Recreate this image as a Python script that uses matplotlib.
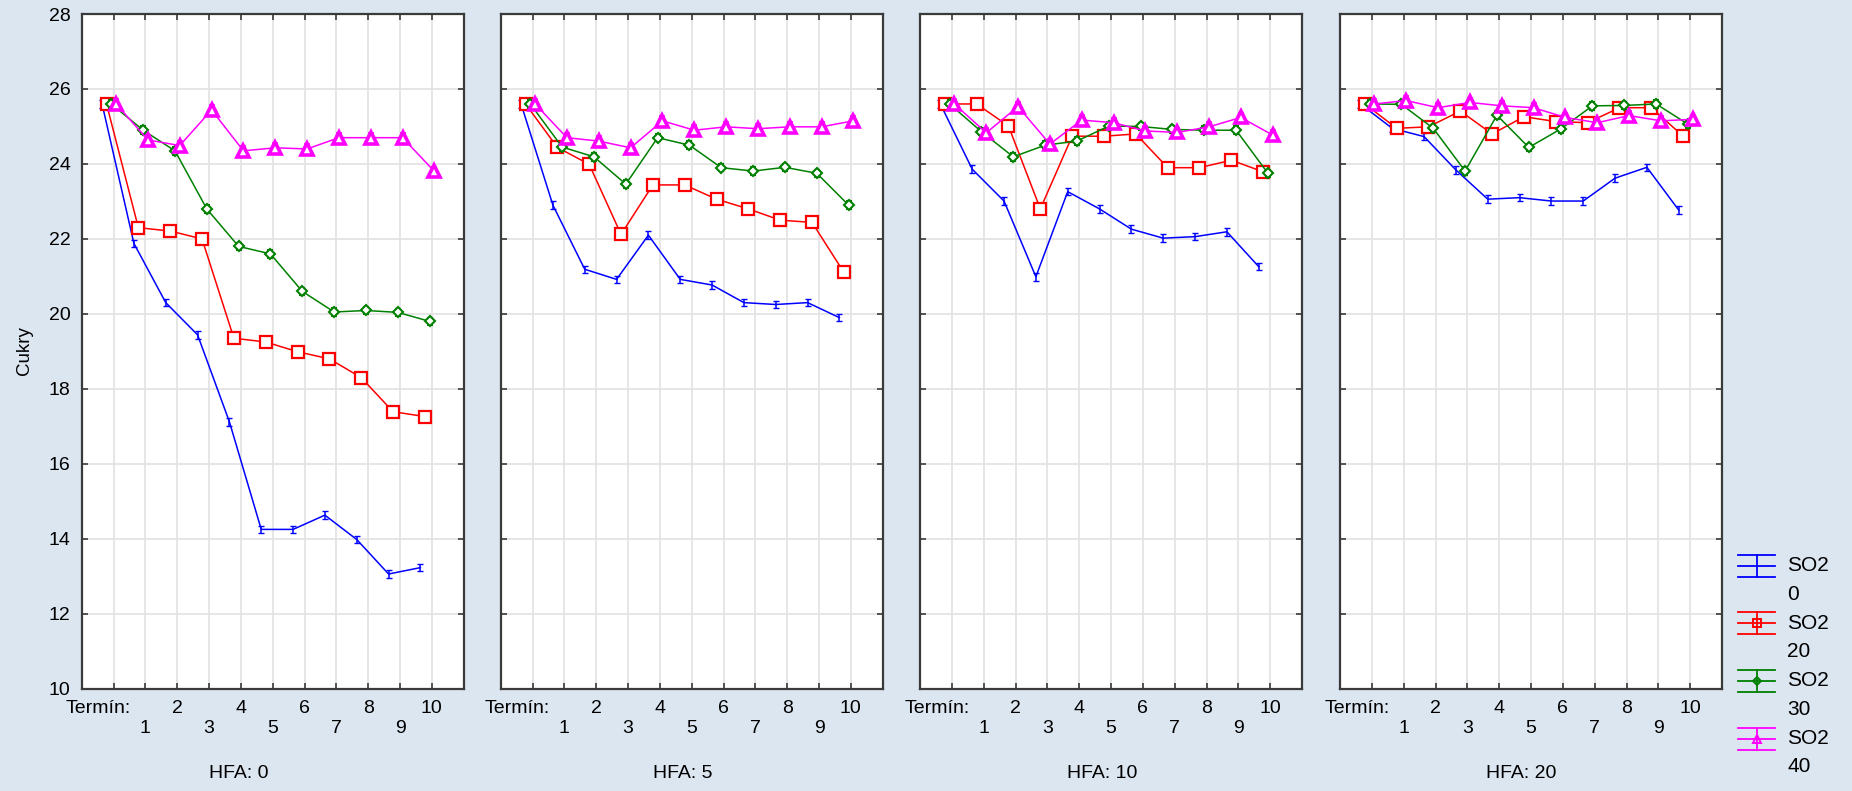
import numpy as np
import matplotlib
matplotlib.use("Agg")
import matplotlib.pyplot as plt

plt.rcParams['font.family'] = ['Liberation Sans', 'DejaVu Sans']

# data
termin = list(range(11))
hfa_levels = [0, 5, 10, 20]
so2_levels = [0, 20, 30, 40]

# one row per HFA level (0, 5, 10, 20)
so2_0 = [
    [25.6, 21.88, 20.3, 19.44, 17.12, 14.25, 14.25, 14.63, 13.98, 13.06, 13.23],
    [25.6, 22.9, 21.19, 20.92, 22.1, 20.92, 20.77, 20.3, 20.25, 20.3, 19.9],
    [25.6, 23.86, 23.01, 20.99, 23.26, 22.8, 22.26, 22.02, 22.06, 22.19, 21.26],
    [25.6, 24.95, 24.73, 23.84, 23.06, 23.1, 23.01, 23.01, 23.62, 23.91, 22.77],
]
so2_20 = [
    [25.6, 22.3, 22.21, 22.0, 19.35, 19.25, 18.99, 18.8, 18.3, 17.39, 17.26],
    [25.6, 24.44, 23.99, 22.12, 23.44, 23.44, 23.06, 22.8, 22.5, 22.44, 21.11],
    [25.6, 25.6, 25.01, 22.8, 24.74, 24.74, 24.8, 23.9, 23.9, 24.1, 23.79],
    [25.6, 24.95, 24.99, 25.41, 24.8, 25.26, 25.13, 25.1, 25.5, 25.5, 24.74],
]
so2_30 = [
    [25.6, 24.9, 24.35, 22.8, 21.8, 21.6, 20.6, 20.05, 20.09, 20.04, 19.8],
    [25.6, 24.45, 24.19, 23.46, 24.7, 24.5, 23.9, 23.81, 23.91, 23.75, 22.9],
    [25.6, 24.86, 24.19, 24.5, 24.61, 25.01, 25.0, 24.92, 24.9, 24.9, 23.75],
    [25.6, 25.59, 24.95, 23.81, 25.3, 24.44, 24.93, 25.55, 25.56, 25.6, 25.06],
]
so2_40 = [
    [25.6, 24.64, 24.49, 25.44, 24.35, 24.43, 24.4, 24.7, 24.7, 24.7, 23.8],
    [25.6, 24.7, 24.61, 24.43, 25.15, 24.9, 24.99, 24.94, 24.99, 24.99, 25.15],
    [25.6, 24.83, 25.53, 24.53, 25.17, 25.1, 24.88, 24.84, 24.99, 25.24, 24.77],
    [25.6, 25.69, 25.5, 25.64, 25.55, 25.5, 25.24, 25.1, 25.29, 25.15, 25.19],
]
std_err = 0.1

series = [so2_0, so2_20, so2_30, so2_40]
colors = ['#0000ff', '#ff0000', '#008000', '#ff00ff']
markers = [None, 's', 'D', '^']
msizes = [0, 8, 5.5, 8]
mews = [1, 1.6, 1.5, 2.6]
offsets = [-0.36, -0.22, -0.07, 0.08]

BG = '#dce6f1'
SPINE = '#3a3a3a'
W, H = 1852, 791
FS = 14

fig = plt.figure(figsize=(W / 100, H / 100), dpi=100, facecolor=BG)

lefts = [81.7, 500.7, 920, 1340]
pw = 382
top_px, bot_px = 14, 688.7
hfa_label_pos = [0.411, 0.476, 0.476, 0.474]

for p, left in enumerate(lefts):
    ax = fig.add_axes([left / W, 1 - bot_px / H, pw / W, (bot_px - top_px) / H])
    ax.set_facecolor('white')
    for s in range(4):
        x = np.array(termin) + offsets[s]
        y = series[s][p]
        ax.errorbar(x, y, yerr=std_err, color=colors[s], lw=1.1,
                    marker=markers[s], ms=msizes[s], mfc='white',
                    mec=colors[s], mew=mews[s], elinewidth=1.1,
                    capsize=2, capthick=1.1, zorder=3 + s)
    ax.set_xlim(-1, 11)
    ax.set_ylim(10, 28)
    ax.set_yticks(np.arange(10, 29, 2))
    ax.set_xticks(termin)
    ax.set_xticklabels([''] + [str(t) if t % 2 == 0 else '\n' + str(t)
                               for t in termin[1:]], fontsize=FS, linespacing=1.25)
    ax.set_xticks([-0.47], minor=True)
    ax.set_xticklabels(['Termín:'], minor=True, fontsize=FS)
    ax.tick_params(axis='x', which='minor', length=0, pad=8)
    ax.tick_params(axis='both', which='major', direction='in', length=4,
                   width=1.2, color=SPINE, top=True, right=True, pad=8,
                   labelsize=FS)
    if p > 0:
        ax.tick_params(axis='y', labelleft=False)
    ax.grid(True, which='major', color='#e2e2e2', lw=1.2, zorder=0)
    ax.set_axisbelow(True)
    for sp in ax.spines.values():
        sp.set_color(SPINE)
        sp.set_linewidth(1.6)
    ax.text(hfa_label_pos[p], 1 - (773 - top_px) / (bot_px - top_px),
            'HFA: %d' % hfa_levels[p], transform=ax.transAxes,
            ha='center', va='center', fontsize=FS)

fig.text(24 / W, 1 - 351 / H, 'Cukry', rotation=90, ha='center', va='center',
         fontsize=13.5)

# legend drawn in pixel units
lax = fig.add_axes([1725 / W, 1 - 775 / H, 127 / W, 245 / H])
lax.set_xlim(1725, 1852)
lax.set_ylim(775, 530)
lax.axis('off')
for s in range(4):
    yc = 565.7 + s * 57.6
    lax.plot([1738, 1775], [yc, yc], color=colors[s], lw=1.3)
    lax.plot([1738, 1775], [yc - 11, yc - 11], color=colors[s], lw=1.3)
    lax.plot([1738, 1775], [yc + 11, yc + 11], color=colors[s], lw=1.3)
    lax.plot([1756.5, 1756.5], [yc - 11, yc + 11], color=colors[s], lw=1.3)
    if markers[s]:
        lax.plot([1756.5], [yc], marker=markers[s], ms=msizes[s] * 0.8,
                 mfc='none', mec=colors[s], mew=1.4, ls='none')
    lax.text(1787, yc, 'SO2', ha='left', va='center', fontsize=15)
    lax.text(1787, yc + 28.5, str(so2_levels[s]), ha='left', va='center',
             fontsize=15)

fig.savefig('out.png', dpi=100, facecolor=BG)
